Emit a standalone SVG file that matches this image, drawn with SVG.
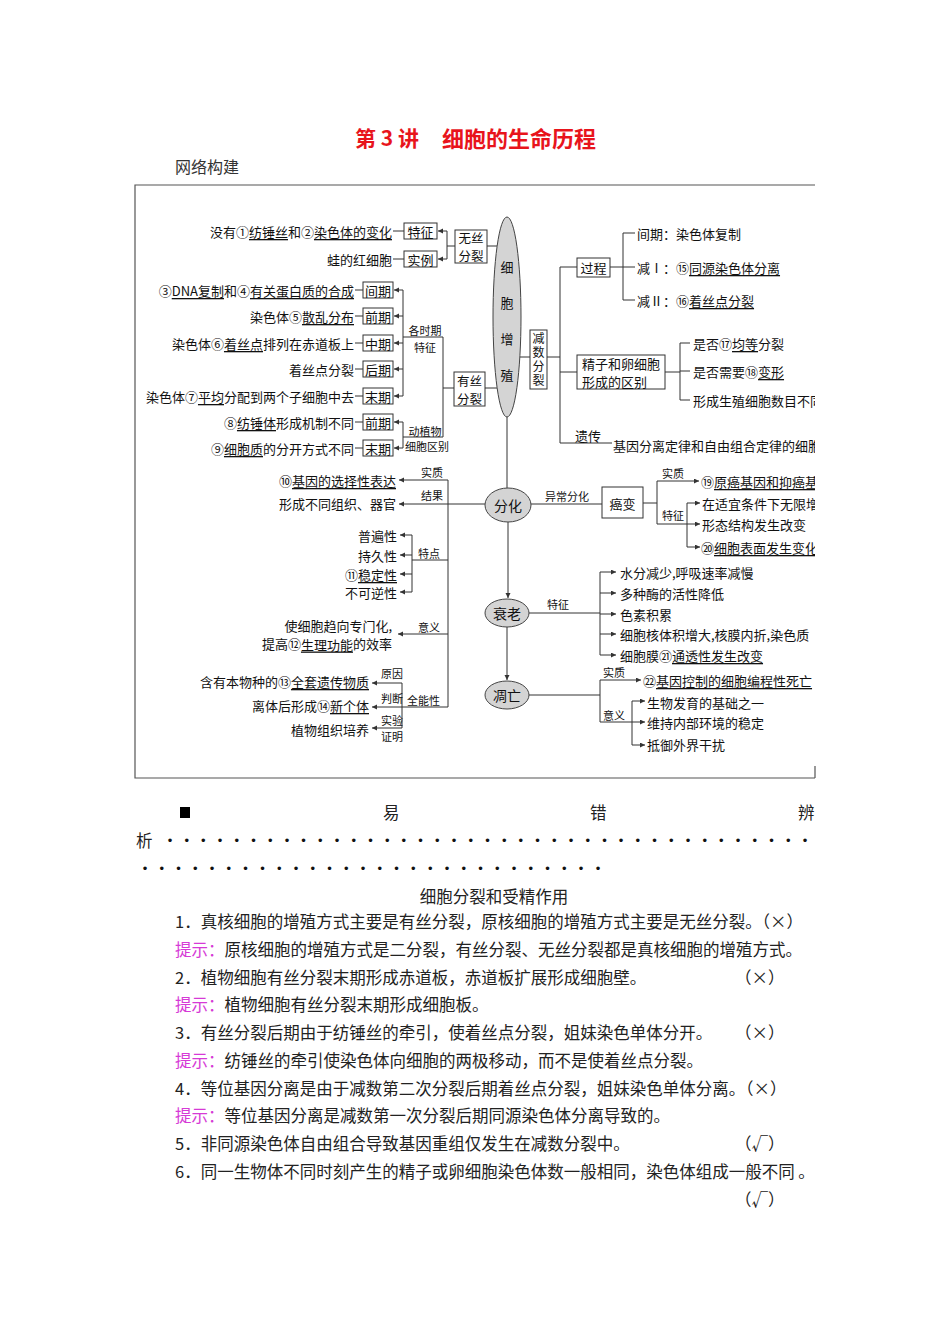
<svg xmlns="http://www.w3.org/2000/svg" width="950" height="1344" viewBox="0 0 950 1344">
<defs>
<style>
text{font-family:"Noto Sans CJK SC","Noto Sans",sans-serif;fill:#111;dominant-baseline:central}
.m{font-size:13px}
.s{font-size:11px}
.k{font-size:14px}
.w{font-size:12.5px}
.v{font-size:12px;writing-mode:vertical-rl;letter-spacing:2px}
.c{text-anchor:middle}
.e{text-anchor:end}
.u{text-decoration:underline}
.ln{stroke:#333;stroke-width:1;fill:none}
.ar{stroke:#333;stroke-width:1;fill:none;marker-end:url(#a)}
.bx{fill:#fff;stroke:#333;stroke-width:1}
.el{fill:#d4d4d4;stroke:#444;stroke-width:1}
.b{font-size:16.5px;fill:#222}
.h{fill:#d63ad6}
.dot{font-family:"Liberation Sans",sans-serif;font-size:13px;fill:#111}
</style>
<marker id="a" markerWidth="6" markerHeight="6" refX="5" refY="2.5" orient="auto" markerUnits="userSpaceOnUse"><path d="M0,0 L5,2.5 L0,5 z" fill="#333"/></marker>
<clipPath id="clip"><rect x="0" y="0" width="815" height="1344"/></clipPath>
</defs>
<rect width="950" height="1344" fill="#fff"/>

<g id="title">
<text x="355" y="137" font-size="21" font-weight="bold" style="fill:#e8141c">第 3 讲<tspan x="442" font-size="22">细胞的生命历程</tspan></text>
<text x="175" y="166" style="font-size:16px;fill:#333">网络构建</text>
</g>

<g id="connectors">
<path class="ln" d="M815,185 H135 V778 H815 M815,766 V778" style="stroke:#555;stroke-width:1.2"/>
<path class="ln" d="M393,231 H404 M393,259 H404 M447,231 V259 M447,246 H455 M487,246 H497"/>
<path class="ar" d="M447,231 H438"/>
<path class="ar" d="M447,259 H438"/>
<path class="ln" d="M355,290 H363 M355,316 H363 M355,343 H363 M355,369 H363 M355,396 H363 M355,422 H363 M355,448 H363"/>
<path class="ln" d="M403,290 V396 M403,337 H443 M443,337 V437 M443,388 H454 M403,422 V448 M403,437 H443 M485,388 H497"/>
<path class="ar" d="M403,290 H394"/>
<path class="ar" d="M403,316 H394"/>
<path class="ar" d="M403,343 H394"/>
<path class="ar" d="M403,369 H394"/>
<path class="ar" d="M403,396 H394"/>
<path class="ar" d="M403,422 H394"/>
<path class="ar" d="M403,448 H394"/>
<path class="ln" d="M520,357 H530 M547,357 H560 M560,267 V443 M560,267 H577 M560,372 H577 M560,443 H612 M610,267 H635 M623,233 V300 M623,233 H635 M623,300 H635"/>
<path class="ln" d="M665,372 H680 M680,343 V400 M680,343 H690 M680,371 H690 M680,400 H690"/>
<path class="ln" d="M507,417 V488 M531,504 H602 M643,503 H657 M657,481 V524 M657,524 H687 M687,503 V547"/>
<path class="ar" d="M657,481 H699"/>
<path class="ar" d="M687,503 H700"/>
<path class="ar" d="M687,524 H700"/>
<path class="ar" d="M687,547 H700"/>
<path class="ar" d="M508,522 V598"/>
<path class="ln" d="M529,613 H600 M600,572 V655"/>
<path class="ar" d="M600,572 H616"/>
<path class="ar" d="M600,593 H616"/>
<path class="ar" d="M600,614 H616"/>
<path class="ar" d="M600,634 H616"/>
<path class="ar" d="M600,655 H616"/>
<path class="ar" d="M507,627 V680"/>
<path class="ln" d="M529,695 H600 M600,680 V722 M600,722 H632 M632,701 V745"/>
<path class="ar" d="M600,680 H641"/>
<path class="ar" d="M632,701 H645"/>
<path class="ar" d="M632,722 H645"/>
<path class="ar" d="M632,745 H645"/>
<path class="ln" d="M448,480 V707 M448,560 H412 M412,535 V592 M448,707 H402 M402,683 V728"/>
<path class="ar" d="M485,504 H399"/>
<path class="ar" d="M448,480 H399"/>
<path class="ar" d="M412,535 H400"/>
<path class="ar" d="M412,555 H400"/>
<path class="ar" d="M412,574 H400"/>
<path class="ar" d="M412,592 H400"/>
<path class="ar" d="M448,634 H398"/>
<path class="ar" d="M402,683 H372"/>
<path class="ar" d="M402,707 H372"/>
<path class="ar" d="M402,728 H372"/>
</g>

<g id="n-zengzhi">
<ellipse class="el" cx="507" cy="317" rx="14" ry="100"/>
<text class="m c" x="507" y="266">细</text>
<text class="m c" x="507" y="302">胞</text>
<text class="m c" x="507" y="338">增</text>
<text class="m c" x="507" y="374">殖</text>
</g>

<g id="n-wusi">
<rect class="bx" x="455" y="230" width="32" height="33"/>
<text class="w c" x="471" y="237.5">无丝</text>
<text class="w c" x="471" y="255.5">分裂</text>
<rect class="bx" x="404" y="223" width="33" height="16"/>
<text class="m c" x="420.5" y="231">特征</text>
<rect class="bx" x="404" y="251" width="33" height="16"/>
<text class="m c" x="420.5" y="259">实例</text>
<text class="m e" x="392" y="231">没有①<tspan class="u">纺锤丝</tspan>和②<tspan class="u">染色体的变化</tspan></text>
<text class="m e" x="392" y="259">蛙的红细胞</text>
</g>

<g id="n-yousi">
<rect class="bx" x="454" y="372" width="31" height="34"/>
<text class="w c" x="469.5" y="380">有丝</text>
<text class="w c" x="469.5" y="398">分裂</text>
<text class="s c" x="425" y="330">各时期</text>
<text class="s c" x="425" y="347">特征</text>
<text class="s c" x="425" y="431">动植物</text>
<text class="s c" x="427" y="446">细胞区别</text>
<rect class="bx" x="363" y="282" width="30" height="16"/><text class="m c" x="378" y="290">间期</text>
<rect class="bx" x="363" y="308" width="30" height="16"/><text class="m c" x="378" y="316">前期</text>
<rect class="bx" x="363" y="335" width="30" height="16"/><text class="m c" x="378" y="343">中期</text>
<rect class="bx" x="363" y="361" width="30" height="16"/><text class="m c" x="378" y="369">后期</text>
<rect class="bx" x="363" y="388" width="30" height="16"/><text class="m c" x="378" y="396">末期</text>
<rect class="bx" x="363" y="414" width="30" height="16"/><text class="m c" x="378" y="422">前期</text>
<rect class="bx" x="363" y="440" width="30" height="16"/><text class="m c" x="378" y="448">末期</text>
<text class="m e" x="354" y="290">③<tspan class="u">DNA复制</tspan>和④<tspan class="u">有关蛋白质的合成</tspan></text>
<text class="m e" x="354" y="316">染色体⑤<tspan class="u">散乱分布</tspan></text>
<text class="m e" x="354" y="343">染色体⑥<tspan class="u">着丝点</tspan>排列在赤道板上</text>
<text class="m e" x="354" y="369">着丝点分裂</text>
<text class="m e" x="354" y="396">染色体⑦<tspan class="u">平均</tspan>分配到两个子细胞中去</text>
<text class="m e" x="354" y="422">⑧<tspan class="u">纺锤体</tspan>形成机制不同</text>
<text class="m e" x="354" y="448">⑨<tspan class="u">细胞质</tspan>的分开方式不同</text>
</g>

<g id="n-jianshu" clip-path="url(#clip)">
<rect class="bx" x="530" y="330" width="17" height="59"/>
<text class="v c" x="538.5" y="360">减数分裂</text>
<rect class="bx" x="577" y="258" width="33" height="19"/>
<text class="m c" x="593.5" y="267">过程</text>
<text class="m" x="637" y="233">间期：染色体复制</text>
<text class="m" x="637" y="267">减Ⅰ：⑮<tspan class="u">同源染色体分离</tspan></text>
<text class="m" x="637" y="300">减Ⅱ：⑯<tspan class="u">着丝点分裂</tspan></text>
<rect class="bx" x="577" y="355" width="88" height="34"/>
<text class="m" x="582" y="363.5">精子和卵细胞</text>
<text class="m" x="582" y="381.5">形成的区别</text>
<text class="m" x="693" y="343">是否⑰<tspan class="u">均等</tspan>分裂</text>
<text class="m" x="693" y="371">是否需要⑱<tspan class="u">变形</tspan></text>
<text class="m" x="693" y="400">形成生殖细胞数目不同</text>
<text class="m" x="575" y="435">遗传</text>
<text class="m" x="613" y="445">基因分离定律和自由组合定律的细胞</text>
</g>

<g id="n-fenhua" clip-path="url(#clip)">
<ellipse class="el" cx="508" cy="505" rx="23" ry="17"/>
<text class="k c" x="508" y="505">分化</text>
<text class="s" x="545" y="496">异常分化</text>
<rect class="bx" x="602" y="487" width="41" height="31"/>
<text class="m c" x="622.5" y="503">癌变</text>
<text class="s" x="662" y="473">实质</text>
<text class="s" x="662" y="515">特征</text>
<text class="m" x="701" y="481">⑲<tspan class="u">原癌基因和抑癌基</tspan></text>
<text class="m" x="702" y="503">在适宜条件下无限增</text>
<text class="m" x="702" y="524">形态结构发生改变</text>
<text class="m" x="701" y="547">⑳<tspan class="u">细胞表面发生变化</tspan></text>
<text class="s" x="421" y="472">实质</text>
<text class="s" x="421" y="495">结果</text>
<text class="m e" x="396" y="480">⑩<tspan class="u">基因的选择性表达</tspan></text>
<text class="m e" x="396" y="503">形成不同组织、器官</text>
<text class="s" x="418" y="553">特点</text>
<text class="m e" x="397" y="535">普遍性</text>
<text class="m e" x="397" y="555">持久性</text>
<text class="m e" x="397" y="574">⑪<tspan class="u">稳定性</tspan></text>
<text class="m e" x="397" y="592">不可逆性</text>
<text class="s" x="418" y="627">意义</text>
<text class="m e" x="392" y="625.5">使细胞趋向专门化,</text>
<text class="m e" x="392" y="643.5">提高⑫<tspan class="u">生理功能</tspan>的效率</text>
<text class="s" x="407" y="700">全能性</text>
<text class="s" x="381" y="673">原因</text>
<text class="s" x="381" y="698">判断</text>
<text class="s" x="381" y="720">实验</text>
<text class="s" x="381" y="736">证明</text>
<text class="m e" x="369" y="681">含有本物种的⑬<tspan class="u">全套遗传物质</tspan></text>
<text class="m e" x="369" y="705">离体后形成⑭<tspan class="u">新个体</tspan></text>
<text class="m e" x="369" y="729">植物组织培养</text>
</g>

<g id="n-shuailao" clip-path="url(#clip)">
<ellipse class="el" cx="507" cy="613" rx="22" ry="14"/>
<text class="k c" x="507" y="613">衰老</text>
<text class="s" x="547" y="604">特征</text>
<text class="m" x="620" y="572">水分减少,呼吸速率减慢</text>
<text class="m" x="620" y="593">多种酶的活性降低</text>
<text class="m" x="620" y="614">色素积累</text>
<text class="m" x="620" y="634">细胞核体积增大,核膜内折,染色质</text>
<text class="m" x="620" y="655">细胞膜㉑<tspan class="u">通透性发生改变</tspan></text>
</g>

<g id="n-diaowang" clip-path="url(#clip)">
<ellipse class="el" cx="507" cy="695" rx="22" ry="14"/>
<text class="k c" x="507" y="695">凋亡</text>
<text class="s" x="603" y="672">实质</text>
<text class="s" x="603" y="715">意义</text>
<text class="m" x="643" y="680">㉒<tspan class="u">基因控制的细胞编程性死亡</tspan></text>
<text class="m" x="647" y="702">生物发育的基础之一</text>
<text class="m" x="647" y="722">维持内部环境的稳定</text>
<text class="m" x="647" y="744">抵御外界干扰</text>
</g>

<g id="bottom">
<rect x="180" y="807" width="10" height="11" fill="#000"/>
<text class="b" x="383" y="812">易</text>
<text class="b" x="590" y="812">错</text>
<text class="b" x="798" y="812">辨</text>
<text class="b" x="136" y="840">析</text>
<text class="dot" x="167.7" y="840" textLength="639.5" lengthAdjust="spacing">•••••••••••••••••••••••••••••••••••••••</text>
<text class="dot" x="142.7" y="868" textLength="457.5" lengthAdjust="spacing">••••••••••••••••••••••••••••</text>
<text class="b c" x="494" y="896">细胞分裂和受精作用</text>
<text class="b" x="175" y="921">1．真核细胞的增殖方式主要是有丝分裂，原核细胞的增殖方式主要是无丝分裂。（×）</text>
<text class="b" x="175" y="949"><tspan class="h">提示：</tspan>原核细胞的增殖方式是二分裂，有丝分裂、无丝分裂都是真核细胞的增殖方式。</text>
<text class="b" x="175" y="977">2．植物细胞有丝分裂末期形成赤道板，赤道板扩展形成细胞壁。</text>
<text class="b" x="735" y="977">（×）</text>
<text class="b" x="175" y="1004"><tspan class="h">提示：</tspan>植物细胞有丝分裂末期形成细胞板。</text>
<text class="b" x="175" y="1032">3．有丝分裂后期由于纺锤丝的牵引，使着丝点分裂，姐妹染色单体分开。</text>
<text class="b" x="735" y="1032">（×）</text>
<text class="b" x="175" y="1060"><tspan class="h">提示：</tspan>纺锤丝的牵引使染色体向细胞的两极移动，而不是使着丝点分裂。</text>
<text class="b" x="175" y="1088">4．等位基因分离是由于减数第二次分裂后期着丝点分裂，姐妹染色单体分离。（×）</text>
<text class="b" x="175" y="1115"><tspan class="h">提示：</tspan>等位基因分离是减数第一次分裂后期同源染色体分离导致的。</text>
<text class="b" x="175" y="1143">5．非同源染色体自由组合导致基因重组仅发生在减数分裂中。</text>
<text class="b" x="735" y="1143">（√）</text>
<text class="b" x="175" y="1171">6．同一生物体不同时刻产生的精子或卵细胞染色体数一般相同，染色体组成一般不同 。</text>
<text class="b" x="735" y="1199">（√）</text>
</g>
</svg>
